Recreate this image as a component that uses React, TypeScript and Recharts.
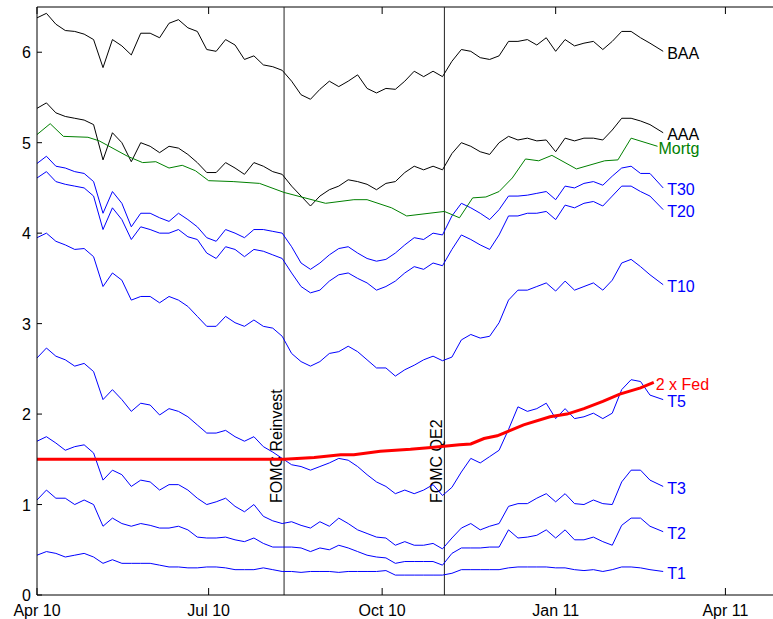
import { LineChart, Line, XAxis, YAxis, ReferenceLine } from 'recharts'

// days since 1 Apr 2010
const days = [
  0, 5, 10, 15, 20, 25, 30, 35, 40, 45,
  50, 55, 60, 65, 70, 75, 80, 85, 90, 95,
  100, 105, 110, 115, 120, 125, 130, 135, 140, 145,
  150, 155, 160, 165, 170, 175, 180, 185, 190, 195,
  200, 205, 210, 215, 220, 225, 230, 235, 240, 245,
  250, 255, 260, 265, 270, 275, 280, 285, 290, 295,
  300, 305, 310, 315, 320, 325, 332,
]

const baa = [
  6.38, 6.43, 6.31, 6.24, 6.23, 6.2, 6.14, 5.83, 6.14, 6.07,
  5.97, 6.21, 6.21, 6.16, 6.32, 6.36, 6.27, 6.23, 6.03, 6.01,
  6.14, 6.08, 5.92, 5.96, 5.86, 5.84, 5.8, 5.68, 5.53, 5.48,
  5.59, 5.68, 5.62, 5.68, 5.75, 5.6, 5.55, 5.6, 5.59, 5.68,
  5.79, 5.73, 5.79, 5.73, 5.9, 6.03, 6.01, 5.94, 5.92, 5.96,
  6.12, 6.12, 6.14, 6.08, 6.16, 6.01, 6.14, 6.07, 6.1, 6.12,
  6.03, 6.12, 6.23, 6.23, 6.16, 6.1, 6.01,
]
const aaa = [
  5.38, 5.44, 5.33, 5.29, 5.27, 5.25, 5.2, 4.81, 5.11, 5.0,
  4.79, 5.0, 4.96, 4.89, 4.96, 4.94, 4.87, 4.78, 4.67, 4.67,
  4.78, 4.72, 4.65, 4.78, 4.74, 4.68, 4.65, 4.52, 4.41, 4.3,
  4.41, 4.48, 4.52, 4.59, 4.57, 4.54, 4.48, 4.55, 4.57, 4.67,
  4.74, 4.7, 4.74, 4.7, 4.88, 5.0, 4.96, 4.9, 4.87, 5.0,
  5.07, 5.03, 5.05, 5.02, 5.03, 4.9, 5.05, 5.02, 5.05, 5.05,
  5.03, 5.14, 5.27, 5.27, 5.24, 5.2, 5.11,
]
const t30 = [
  4.77, 4.85, 4.74, 4.72, 4.68, 4.66, 4.57, 4.22, 4.46, 4.33,
  4.07, 4.22, 4.22, 4.17, 4.13, 4.22, 4.15, 4.07, 3.95, 3.91,
  4.04, 4.0, 3.95, 4.04, 4.04, 4.02, 4.0, 3.85, 3.67, 3.6,
  3.67, 3.76, 3.83, 3.85, 3.78, 3.72, 3.69, 3.71, 3.78, 3.87,
  3.95, 3.93, 4.0, 3.98, 4.19, 4.33, 4.28, 4.22, 4.15, 4.26,
  4.41, 4.41, 4.42, 4.44, 4.46, 4.37, 4.52, 4.5, 4.55, 4.57,
  4.53, 4.63, 4.72, 4.74, 4.66, 4.66, 4.5,
]
const t20 = [
  4.61, 4.68, 4.57, 4.54, 4.52, 4.5, 4.41, 4.04, 4.28, 4.15,
  3.93, 4.07, 4.04, 4.0, 4.0, 4.04, 3.96, 3.93, 3.78, 3.72,
  3.85, 3.82, 3.74, 3.82, 3.8, 3.76, 3.72, 3.56, 3.41, 3.34,
  3.37, 3.47, 3.54, 3.56, 3.5, 3.45, 3.37, 3.41, 3.47, 3.56,
  3.63, 3.6, 3.67, 3.64, 3.82, 3.98, 3.93, 3.87, 3.82, 3.98,
  4.19, 4.19, 4.22, 4.22, 4.24, 4.15, 4.31, 4.28, 4.33, 4.35,
  4.3, 4.41, 4.52, 4.52, 4.46, 4.41, 4.26,
]
const t10 = [
  3.95, 4.0, 3.91, 3.87, 3.82, 3.83, 3.74, 3.41, 3.56, 3.48,
  3.26, 3.3, 3.3, 3.23, 3.3, 3.26, 3.19, 3.08, 2.97, 2.97,
  3.08, 3.01, 2.97, 3.04, 2.97, 2.95, 2.86, 2.67, 2.58, 2.53,
  2.58, 2.67, 2.69, 2.75, 2.69, 2.6, 2.51, 2.51, 2.42, 2.49,
  2.54, 2.6, 2.64, 2.59, 2.63, 2.82, 2.88, 2.84, 2.86, 3.01,
  3.26, 3.37, 3.37, 3.41, 3.45, 3.36, 3.47, 3.37, 3.41, 3.45,
  3.37, 3.48, 3.67, 3.71, 3.63, 3.54, 3.43,
]
const t5 = [
  2.62, 2.73, 2.64, 2.6, 2.53, 2.56, 2.47, 2.16, 2.27, 2.16,
  2.03, 2.12, 2.1, 1.99, 2.06, 2.03, 1.97, 1.88, 1.79, 1.79,
  1.82, 1.75, 1.7, 1.75, 1.64, 1.58, 1.51, 1.44, 1.42, 1.38,
  1.42, 1.46, 1.51, 1.49, 1.42, 1.33, 1.25, 1.2, 1.12, 1.16,
  1.12, 1.16, 1.22, 1.1, 1.19, 1.36, 1.51, 1.46, 1.53, 1.6,
  1.83, 2.08, 2.03, 2.06, 2.12, 1.95, 2.06, 1.95, 1.97, 2.01,
  1.95, 2.01, 2.27, 2.38, 2.36, 2.21, 2.16,
]
const t3 = [
  1.7, 1.75, 1.68, 1.6, 1.64, 1.66, 1.57, 1.27, 1.38, 1.33,
  1.2, 1.27, 1.25, 1.16, 1.22, 1.22, 1.16, 1.07, 1.0, 1.03,
  1.07, 0.98, 0.92, 1.0, 0.87, 0.82, 0.79, 0.81, 0.77, 0.74,
  0.81, 0.76, 0.85, 0.79, 0.72, 0.68, 0.64, 0.63, 0.55, 0.59,
  0.55, 0.55, 0.57, 0.51, 0.63, 0.74, 0.79, 0.72, 0.76, 0.79,
  0.98, 1.01, 1.01, 1.07, 1.12, 1.03, 1.12, 1.01, 1.0, 1.05,
  1.01, 1.0, 1.25, 1.38, 1.38, 1.27, 1.2,
]
const t2 = [
  1.05, 1.16, 1.07, 1.07, 1.0, 1.05, 1.0, 0.76, 0.85, 0.79,
  0.76, 0.79, 0.77, 0.74, 0.74, 0.76, 0.72, 0.64, 0.63, 0.63,
  0.64, 0.61, 0.59, 0.63, 0.57, 0.53, 0.53, 0.53, 0.52, 0.48,
  0.52, 0.5, 0.55, 0.52, 0.48, 0.44, 0.42, 0.41, 0.35, 0.37,
  0.37, 0.37, 0.37, 0.33, 0.46, 0.52, 0.52, 0.52, 0.53, 0.53,
  0.72, 0.63, 0.64, 0.66, 0.72, 0.63, 0.72, 0.61, 0.61, 0.64,
  0.59, 0.55, 0.77, 0.85, 0.85, 0.76, 0.7,
]
const t1 = [
  0.44, 0.48, 0.46, 0.42, 0.44, 0.46, 0.42, 0.35, 0.39, 0.35,
  0.35, 0.35, 0.35, 0.33, 0.31, 0.31, 0.3, 0.3, 0.31, 0.31,
  0.3, 0.28, 0.28, 0.28, 0.3, 0.28, 0.26, 0.26, 0.25, 0.26,
  0.26, 0.26, 0.25, 0.26, 0.26, 0.26, 0.26, 0.27, 0.22, 0.22,
  0.22, 0.22, 0.22, 0.22, 0.24, 0.28, 0.28, 0.28, 0.28, 0.28,
  0.3, 0.31, 0.31, 0.31, 0.31, 0.3, 0.3, 0.28, 0.27, 0.28,
  0.26, 0.28, 0.31, 0.31, 0.3, 0.28, 0.26,
]

const mortgDays = [
  0, 7, 14, 27, 33, 48, 56, 63, 70, 77, 84, 91, 104, 118, 131, 153, 168,
  175, 188, 196, 216, 224, 231, 238, 245, 252, 259, 266, 273, 286, 301,
  308, 315, 329,
]
const mortg = [
  5.09, 5.21, 5.07, 5.06, 5.02, 4.85, 4.78, 4.79, 4.72, 4.75, 4.69, 4.58,
  4.57, 4.55, 4.45, 4.33, 4.37, 4.37, 4.28, 4.19, 4.24, 4.17, 4.39, 4.4,
  4.46, 4.61, 4.82, 4.8, 4.86, 4.71, 4.8, 4.81, 5.05, 4.96,
]

const fedDays = [
  0, 131, 147, 161, 168, 182, 198, 209, 224, 230, 237, 244, 251, 258, 272,
  281, 290, 300, 309, 320, 327,
]
const fed2x = [
  1.5, 1.5, 1.52, 1.55, 1.55, 1.59, 1.61, 1.63, 1.66, 1.67, 1.73, 1.76,
  1.82, 1.88, 1.97, 2.0, 2.06, 2.14, 2.22, 2.29, 2.35,
]

const tickDays = [0, 91, 183, 275, 365]
const tickNames = ['Apr 10', 'Jul 10', 'Oct 10', 'Jan 11', 'Apr 11']
const yTicks = [0, 1, 2, 3, 4, 5, 6]

const FONT = '"Liberation Sans", Arial, Helvetica, sans-serif'
const TOP = 7
const BOTTOM = 595
const LEFT = 37
const BLUE = '#0000ff'

const series = [
  { key: 'BAA', values: baa, color: '#000000' },
  { key: 'AAA', values: aaa, color: '#000000' },
  { key: 'T30', values: t30, color: BLUE },
  { key: 'T20', values: t20, color: BLUE },
  { key: 'T10', values: t10, color: BLUE },
  { key: 'T5', values: t5, color: BLUE },
  { key: 'T3', values: t3, color: BLUE },
  { key: 'T2', values: t2, color: BLUE },
  { key: 'T1', values: t1, color: BLUE },
]

const rows = days.map((day, i) => {
  const row: any = { day }
  series.forEach((s) => {
    row[s.key] = s.values[i]
  })
  return row
})
const mortgRows = mortgDays.map((day, i) => ({ day, Mortg: mortg[i] }))
const fedRows = fedDays.map((day, i) => ({ day, Fed: fed2x[i] }))

const endLabel = (name: string, color: string, lastIndex: number, dx: number) => (props: any) => {
  if (props.index !== lastIndex) return <g />
  return (
    <text
      x={props.x + dx}
      y={props.y + 2}
      fill={color}
      fontSize={16}
      fontFamily={FONT}
      dominantBaseline="central"
    >
      {name}
    </text>
  )
}

const renderXTick = (props: any) => {
  const { x, payload } = props
  const i = tickDays.indexOf(payload.value)
  return (
    <g>
      <line x1={x} x2={x} y1={BOTTOM} y2={BOTTOM - 7} stroke="#000" />
      <line x1={x} x2={x} y1={TOP} y2={TOP + 7} stroke="#000" />
      <text x={x} y={616} textAnchor="middle" fontSize={16} fontFamily={FONT} fill="#000">
        {tickNames[i]}
      </text>
    </g>
  )
}

const renderYTick = (props: any) => {
  const { y, payload } = props
  return (
    <g>
      <line x1={LEFT} x2={LEFT + 5} y1={y} y2={y} stroke="#000" />
      <text x={31} y={y + 6} textAnchor="end" fontSize={16} fontFamily={FONT} fill="#000">
        {payload.value}
      </text>
    </g>
  )
}

const vertLabel = (text: string) => (props: any) => {
  const vb = props.viewBox || {}
  return (
    <text
      transform={`translate(${vb.x - 2.5},503) rotate(-90)`}
      fontSize={16}
      fontFamily={FONT}
      fill="#000"
    >
      {text}
    </text>
  )
}

export default function App() {
  return (
    <div
      style={{
        position: 'absolute',
        left: 0,
        top: 0,
        width: 773,
        height: 619,
        overflow: 'hidden',
        background: '#fff',
      }}
    >
      <LineChart width={782} height={619} margin={{ top: TOP, right: 0, bottom: 0, left: 0 }}>
        <XAxis
          dataKey="day"
          type="number"
          domain={[0, 395]}
          ticks={tickDays}
          allowDataOverflow
          height={24}
          axisLine={{ stroke: '#000' }}
          tickLine={false}
          tick={renderXTick}
        />
        <YAxis
          type="number"
          domain={[0, 6.5]}
          ticks={yTicks}
          allowDataOverflow
          width={LEFT}
          axisLine={{ stroke: '#000' }}
          tickLine={false}
          tick={renderYTick}
        />
        <ReferenceLine y={6.5} stroke="#000" />
        <ReferenceLine x={131} stroke="#222" label={vertLabel('FOMC Reinvest')} />
        <ReferenceLine x={216} stroke="#222" label={vertLabel('FOMC QE2')} />
        {series.map((s) => (
          <Line
            key={s.key}
            data={rows}
            dataKey={s.key}
            stroke={s.color}
            strokeWidth={1}
            dot={false}
            isAnimationActive={false}
            label={endLabel(s.key, s.color, rows.length - 1, 4)}
          />
        ))}
        <Line
          data={mortgRows}
          dataKey="Mortg"
          stroke="#008000"
          strokeWidth={1}
          dot={false}
          isAnimationActive={false}
          label={endLabel('Mortg', '#008000', mortgRows.length - 1, 1)}
        />
        <Line
          data={fedRows}
          dataKey="Fed"
          stroke="#ff0000"
          strokeWidth={3}
          dot={false}
          isAnimationActive={false}
          label={endLabel('2 x Fed', '#ff0000', fedRows.length - 1, 2)}
        />
      </LineChart>
    </div>
  )
}
